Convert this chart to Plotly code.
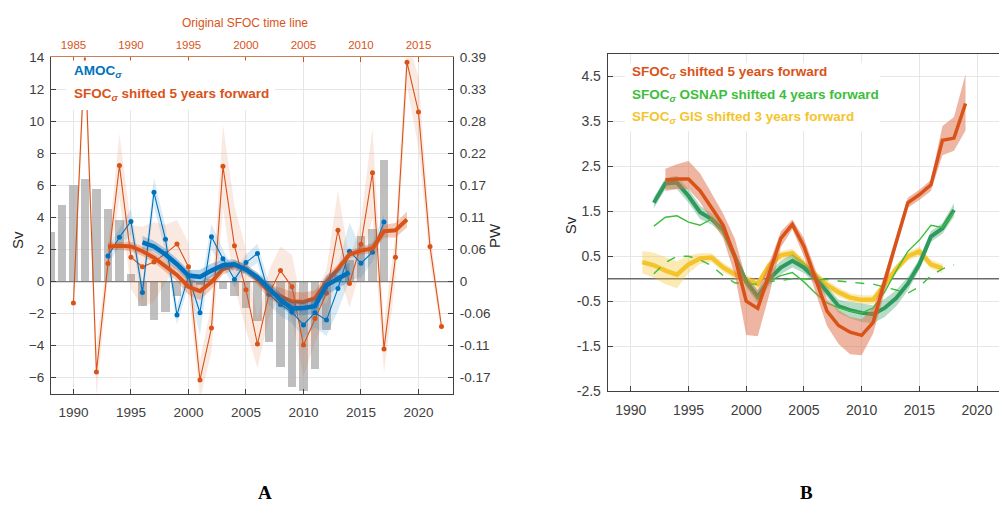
import plotly.graph_objects as go

# ---------------- Panel A data ----------------
# Grey bars (PW), 1988-2017
bar_years = list(range(1988, 2018))
bar_pw = [0.086, 0.133, 0.168, 0.178, 0.160, 0.125, 0.106, 0.013, -0.043, -0.067,
          -0.054, -0.026, -0.012, -0.006, 0.004, -0.013, -0.026, -0.046, -0.070, -0.106,
          -0.150, -0.184, -0.191, -0.153, -0.085, 0.011, 0.037, 0.079, 0.091, 0.210]

# AMOC_sigma annual values (Sv), 1993-2017
amoc_years = list(range(1993, 2018))
amoc = [1.6, 2.77, 3.76, -0.67, 5.58, 2.65, -2.08, 0.35, -1.94, 2.8, 1.43, 0.14, 1.19,
        1.76, -0.78, -1.43, -1.9, -2.7, -1.94, -2.4, -0.42, 1.9, 1.15, 1.84, 3.72]
amoc_err = [0.5, 0.6, 0.8, 0.6, 0.9, 0.8, 0.6, 0.6, 1.4, 0.8, 0.6, 0.5, 0.5, 0.6, 0.7,
            0.7, 0.7, 0.8, 0.9, 1.0, 1.4, 1.8, 0.9, 0.6, 0.5]

# AMOC_sigma smoothed (Sv), 1996-2014
amoc_s_years = list(range(1996, 2015))
amoc_s = [2.45, 2.2, 1.7, 1.09, 0.38, 0.3, 0.69, 1.03, 1.09, 0.75, 0.28, -0.42, -1.13,
          -1.68, -1.64, -1.53, -0.22, 0.18, 0.59]
amoc_s_err = [0.4, 0.35, 0.35, 0.35, 0.35, 0.45, 0.45, 0.35, 0.3, 0.3, 0.3, 0.35, 0.4,
              0.45, 0.45, 0.5, 0.6, 0.6, 0.6]

# SFOC_sigma annual values shifted 5 years forward (Sv), 1990-2022
sfoc_years = list(range(1990, 2023))
sfoc = [-1.33, 14.5, -5.64, 1.13, 7.25, 1.53, 0.93, 1.23, 1.75, 2.35, 0.93, -6.14, -2.9,
        7.2, 2.24, -0.5, -3.9, -0.77, 0.69, -0.32, -3.96, -2.3, -0.73, 3.21, -0.12, 2.34,
        6.8, -4.2, 1.53, 13.7, 10.6, 2.2, -2.8]
sfoc_err = [1.0, 1.5, 1.5, 1.0, 2.0, 2.0, 2.5, 2.5, 1.8, 1.5, 1.5, 1.2, 1.5, 2.6, 2.5,
            2.5, 1.5, 1.5, 1.5, 2.0, 2.0, 1.5, 1.5, 2.5, 1.5, 1.5, 2.8, 1.5, 1.5, 1.5,
            2.2, 1.0, 0.5]

# SFOC_sigma smoothed, shifted 5 years forward (Sv), 1993-2019
sfoc_s_years = list(range(1993, 2020))
sfoc_s = [2.2, 2.24, 2.2, 1.9, 1.5, 0.99, 0.42, -0.32, -0.59, -0.02, 0.79, 1.03, 0.79,
          0.14, -0.62, -0.93, -1.23, -1.27, -1.03, -0.02, 0.79, 1.7, 1.94, 2.08, 3.15,
          3.21, 3.88]
sfoc_s_err = [0.25, 0.25, 0.3, 0.3, 0.3, 0.35, 0.4, 0.5, 0.55, 0.45, 0.35, 0.3, 0.3,
              0.35, 0.45, 0.55, 0.6, 0.6, 0.5, 0.4, 0.3, 0.25, 0.25, 0.3, 0.4, 0.45, 0.5]

sv_ticks = [-6, -4, -2, 0, 2, 4, 6, 8, 10, 12, 14]
pw_per_sv = 0.39 / 14
pw_ticktext = ["-0.17", "-0.11", "-0.06", "0", "0.06", "0.11", "0.17", "0.22", "0.28",
               "0.33", "0.39"]
year_ticks = [1990, 1995, 2000, 2005, 2010, 2015, 2020]
orig_ticks = [1985, 1990, 1995, 2000, 2005, 2010, 2015]

# ---------------- Panel B data ----------------
red_years = list(range(1993, 2020))
red = [2.2, 2.22, 2.22, 1.96, 1.58, 1.19, 0.5, -0.5, -0.66, 0.14, 0.9, 1.21, 0.72, 0.0,
       -0.72, -1.04, -1.19, -1.26, -0.97, -0.05, 0.85, 1.69, 1.87, 2.09, 3.08, 3.13, 3.9]
red_hi = [2.45, 2.55, 2.62, 2.35, 1.9, 1.45, 0.9, 0.0, -0.25, 0.35, 1.05, 1.32, 0.9,
          0.2, -0.45, -0.7, -0.85, -0.9, -0.65, 0.1, 0.95, 1.8, 1.98, 2.2, 3.4, 3.6, 4.55]
red_lo = [1.95, 2.0, 2.0, 1.7, 1.3, 0.9, 0.1, -1.25, -1.28, -0.35, 0.7, 1.1, 0.5, -0.3,
          -1.05, -1.45, -1.68, -1.7, -1.22, -0.3, 0.7, 1.58, 1.75, 1.95, 2.75, 2.85, 3.3]

green_years = list(range(1992, 2019))
green = [1.69, 2.12, 2.14, 1.84, 1.48, 1.33, 1.08, 0.5, -0.07, -0.4, 0.0, 0.25, 0.4,
         0.25, 0.0, -0.29, -0.61, -0.7, -0.76, -0.79, -0.65, -0.43, -0.11, 0.32, 0.94,
         1.12, 1.53]
green_err = [0.12, 0.12, 0.15, 0.15, 0.15, 0.12, 0.12, 0.12, 0.12, 0.15, 0.15, 0.15,
             0.15, 0.12, 0.12, 0.12, 0.15, 0.18, 0.2, 0.2, 0.2, 0.18, 0.15, 0.12, 0.12,
             0.12, 0.15]
green_thin = [1.17, 1.37, 1.4, 1.26, 1.19, 1.33, 1.05, 0.45, -0.12, -0.45, -0.05, 0.07,
              0.14, -0.07, -0.32, -0.54, -0.65, -0.72, -0.76, -0.65, -0.29, 0.18, 0.61,
              0.86, 1.19, 1.14, 1.48]
green_dash = [0.11, 0.36, 0.5, 0.5, 0.42, 0.29, 0.07, -0.09, -0.12, -0.12, -0.06, -0.04,
              0.0, 0.0, -0.02, -0.02, -0.05, -0.08, -0.1, -0.12, -0.18, -0.25, -0.32,
              -0.18, 0.07, 0.22, 0.31]

yellow_years = list(range(1991, 2018))
yellow = [0.37, 0.3, 0.18, 0.09, 0.32, 0.45, 0.47, 0.25, 0.1, -0.02, -0.12, 0.3, 0.52,
          0.57, 0.32, 0.07, -0.14, -0.3, -0.42, -0.47, -0.47, -0.14, 0.22, 0.5, 0.61,
          0.32, 0.23]
yellow_err = [0.25, 0.28, 0.3, 0.3, 0.2, 0.12, 0.1, 0.1, 0.1, 0.1, 0.1, 0.1, 0.1, 0.1,
              0.1, 0.1, 0.1, 0.1, 0.1, 0.1, 0.1, 0.1, 0.1, 0.1, 0.1, 0.1, 0.1]

b_yticks = [-2.5, -1.5, -0.5, 0.5, 1.5, 2.5, 3.5, 4.5]

# ---------------- styling ----------------
BLUE = "#0072BD"
ORANGE = "#D95319"
GREEN_DARK = "#2E9A5E"
GREEN = "#3DBE3D"
YELLOW = "#F5C42C"
AXC = "#404040"
GRID = "#E6E6E6"
FONT = "Liberation Sans"

W, H = 999, 509


def px(x):
    return x / W


def py(y):
    return 1 - y / H


def band(xs, lo, hi, color, xa, ya):
    return go.Scatter(x=list(xs) + list(xs)[::-1], y=list(hi) + list(lo)[::-1],
                      fill="toself", fillcolor=color, line=dict(width=0),
                      mode="lines", hoverinfo="skip", showlegend=False,
                      xaxis=xa, yaxis=ya)


def sym(vals, errs, sign):
    return [v + sign * e for v, e in zip(vals, errs)]


fig = go.Figure()

# Panel A: bars on the PW axis
fig.add_trace(go.Bar(x=bar_years, y=bar_pw, width=0.72,
                     marker=dict(color="rgba(170,170,170,0.75)", line=dict(width=0)),
                     showlegend=False, xaxis="x", yaxis="y"))
# zero line
fig.add_trace(go.Scatter(x=[1988.05, 2023], y=[0, 0], mode="lines", line=dict(color="#7a7a7a", width=1.3),
                         showlegend=False, hoverinfo="skip", xaxis="x", yaxis="y2"))
# uncertainty of annual series
fig.add_trace(band(sfoc_years, sym(sfoc, sfoc_err, -1), sym(sfoc, sfoc_err, 1),
                   "rgba(217,83,25,0.13)", "x", "y2"))
fig.add_trace(band(amoc_years, sym(amoc, amoc_err, -1), sym(amoc, amoc_err, 1),
                   "rgba(0,114,189,0.14)", "x", "y2"))
# annual series
fig.add_trace(go.Scatter(x=sfoc_years, y=sfoc, mode="lines+markers",
                         line=dict(color=ORANGE, width=1.1), marker=dict(size=5, color=ORANGE),
                         showlegend=False, xaxis="x", yaxis="y2"))
fig.add_trace(go.Scatter(x=amoc_years, y=amoc, mode="lines+markers",
                         line=dict(color=BLUE, width=1.1), marker=dict(size=5, color=BLUE),
                         showlegend=False, xaxis="x", yaxis="y2"))
# smoothed series
fig.add_trace(band(sfoc_s_years, sym(sfoc_s, sfoc_s_err, -1), sym(sfoc_s, sfoc_s_err, 1),
                   "rgba(217,83,25,0.30)", "x", "y2"))
fig.add_trace(go.Scatter(x=sfoc_s_years, y=sfoc_s, mode="lines", line=dict(color=ORANGE, width=4),
                         showlegend=False, xaxis="x", yaxis="y2"))
fig.add_trace(band(amoc_s_years, sym(amoc_s, amoc_s_err, -1), sym(amoc_s, amoc_s_err, 1),
                   "rgba(0,114,189,0.30)", "x", "y2"))
fig.add_trace(go.Scatter(x=amoc_s_years, y=amoc_s, mode="lines", line=dict(color=BLUE, width=4.5),
                         showlegend=False, xaxis="x", yaxis="y2"))
# keeps the top (original time line) axis alive
fig.add_trace(go.Scatter(x=[], y=[], xaxis="x2", yaxis="y2", showlegend=False))

# Panel B
fig.add_trace(go.Scatter(x=[1988, 2021.9], y=[0, 0], mode="lines", line=dict(color="#6a6a6a", width=1.3),
                         showlegend=False, hoverinfo="skip", xaxis="x3", yaxis="y3"))
fig.add_trace(band(yellow_years, sym(yellow, yellow_err, -1), sym(yellow, yellow_err, 1),
                   "rgba(245,196,44,0.35)", "x3", "y3"))
fig.add_trace(go.Scatter(x=yellow_years, y=yellow, mode="lines", line=dict(color=YELLOW, width=4.5),
                         showlegend=False, xaxis="x3", yaxis="y3"))
fig.add_trace(band(green_years, sym(green, green_err, -1), sym(green, green_err, 1),
                   "rgba(46,154,94,0.35)", "x3", "y3"))
fig.add_trace(go.Scatter(x=green_years, y=green, mode="lines", line=dict(color=GREEN_DARK, width=4),
                         showlegend=False, xaxis="x3", yaxis="y3"))
fig.add_trace(go.Scatter(x=green_years, y=green_thin, mode="lines", line=dict(color=GREEN, width=1.4),
                         showlegend=False, xaxis="x3", yaxis="y3"))
fig.add_trace(go.Scatter(x=green_years, y=green_dash, mode="lines",
                         line=dict(color=GREEN, width=1.4, dash="dash"),
                         showlegend=False, xaxis="x3", yaxis="y3"))
fig.add_trace(band(red_years, red_lo, red_hi, "rgba(221,110,70,0.50)", "x3", "y3"))
fig.add_trace(go.Scatter(x=red_years, y=red, mode="lines", line=dict(color=ORANGE, width=3.5),
                         showlegend=False, xaxis="x3", yaxis="y3"))


def axstyle(size):
    return dict(ticks="inside", ticklen=5, tickcolor=AXC,
                tickfont=dict(family=FONT, size=size, color=AXC),
                showline=True, linecolor=AXC, linewidth=1, zeroline=False)


fig.update_layout(
    width=W, height=H, margin=dict(l=0, r=0, t=0, b=0),
    paper_bgcolor="white", plot_bgcolor="white", bargap=0,
    font=dict(family=FONT),
    xaxis=dict(domain=[px(51), px(453)], range=[1988.05, 2023], anchor="y",
               tickvals=year_ticks, showgrid=True, gridcolor=GRID, ticklabelstandoff=6,
               **axstyle(13.5)),
    xaxis2=dict(overlaying="x", side="top", anchor="y", range=[1983.05, 2018],
                tickvals=orig_ticks, ticks="inside", ticklen=5, tickcolor=ORANGE,
                tickfont=dict(family=FONT, size=11.5, color=ORANGE), showline=True,
                linecolor="#C8825A", showgrid=False, zeroline=False, ticklabelstandoff=3),
    yaxis=dict(domain=[py(398.5), py(52)], range=[-7 * pw_per_sv, 14 * pw_per_sv],
               side="right", anchor="x", tickvals=[t * pw_per_sv for t in sv_ticks],
               ticktext=pw_ticktext, showgrid=True, gridcolor=GRID, ticklabelstandoff=3,
               **axstyle(13.5)),
    yaxis2=dict(overlaying="y", side="left", anchor="x", range=[-7, 14], tickvals=sv_ticks,
                showgrid=False, ticklabelstandoff=3, **axstyle(13.5)),
    xaxis3=dict(domain=[px(607.7), 1.0], range=[1988, 2021.9], anchor="y3",
                tickvals=year_ticks, showgrid=True, gridcolor=GRID, mirror=True,
                ticklabelstandoff=6, **axstyle(14)),
    yaxis3=dict(domain=[py(395.75), py(48.5)], range=[-2.5, 5], anchor="x3",
                tickvals=b_yticks, ticktext=[f"{v:g}" for v in b_yticks],
                showgrid=True, gridcolor=GRID, ticklabelstandoff=3, **axstyle(14)),
)

# legend boxes (opaque, no frame)
fig.add_shape(type="rect", xref="paper", yref="paper", x0=px(66), x1=px(275), y0=py(106), y1=py(55),
              fillcolor="white", line=dict(width=0), layer="above")
fig.add_shape(type="rect", xref="paper", yref="paper", x0=px(625), x1=px(880), y0=py(128), y1=py(58),
              fillcolor="white", line=dict(width=0), layer="above")

ann = []


def label(text, x, y, color, size=13.5, **kw):
    ann.append(dict(text=text, x=px(x), y=py(y), xref="paper", yref="paper", showarrow=False,
                    xanchor=kw.pop("xanchor", "left"), yanchor=kw.pop("yanchor", "middle"),
                    font=dict(family=kw.pop("family", FONT), size=size, color=color), **kw))


label("<b>AMOC<sub><i>σ</i></sub></b>", 72, 66, BLUE)
label("<b>SFOC<sub><i>σ</i></sub> shifted 5 years forward</b>", 72, 90, ORANGE)
label("<b>SFOC<sub><i>σ</i></sub> shifted 5 years forward</b>", 630, 68, ORANGE)
label("<b>SFOC<sub><i>σ</i></sub> OSNAP shifted 4 years forward</b>", 630, 91, GREEN)
label("<b>SFOC<sub><i>σ</i></sub> GIS shifted 3 years forward</b>", 630, 114, YELLOW)

label("Original SFOC time line", 245, 17, ORANGE, size=12, xanchor="center")
label("Sv", 18, 240, "#262626", size=15, xanchor="center", textangle=-90)
label("PW", 494, 236, "#262626", size=15, xanchor="center", textangle=-90)
label("Sv", 570, 225, "#262626", size=15, xanchor="center", textangle=-90)
label("<b>A</b>", 265, 500, "black", size=19, xanchor="center", family="Liberation Serif")
label("<b>B</b>", 806, 500, "black", size=19, xanchor="center", family="Liberation Serif")

fig.update_layout(annotations=ann)

fig.write_html("out.html")
